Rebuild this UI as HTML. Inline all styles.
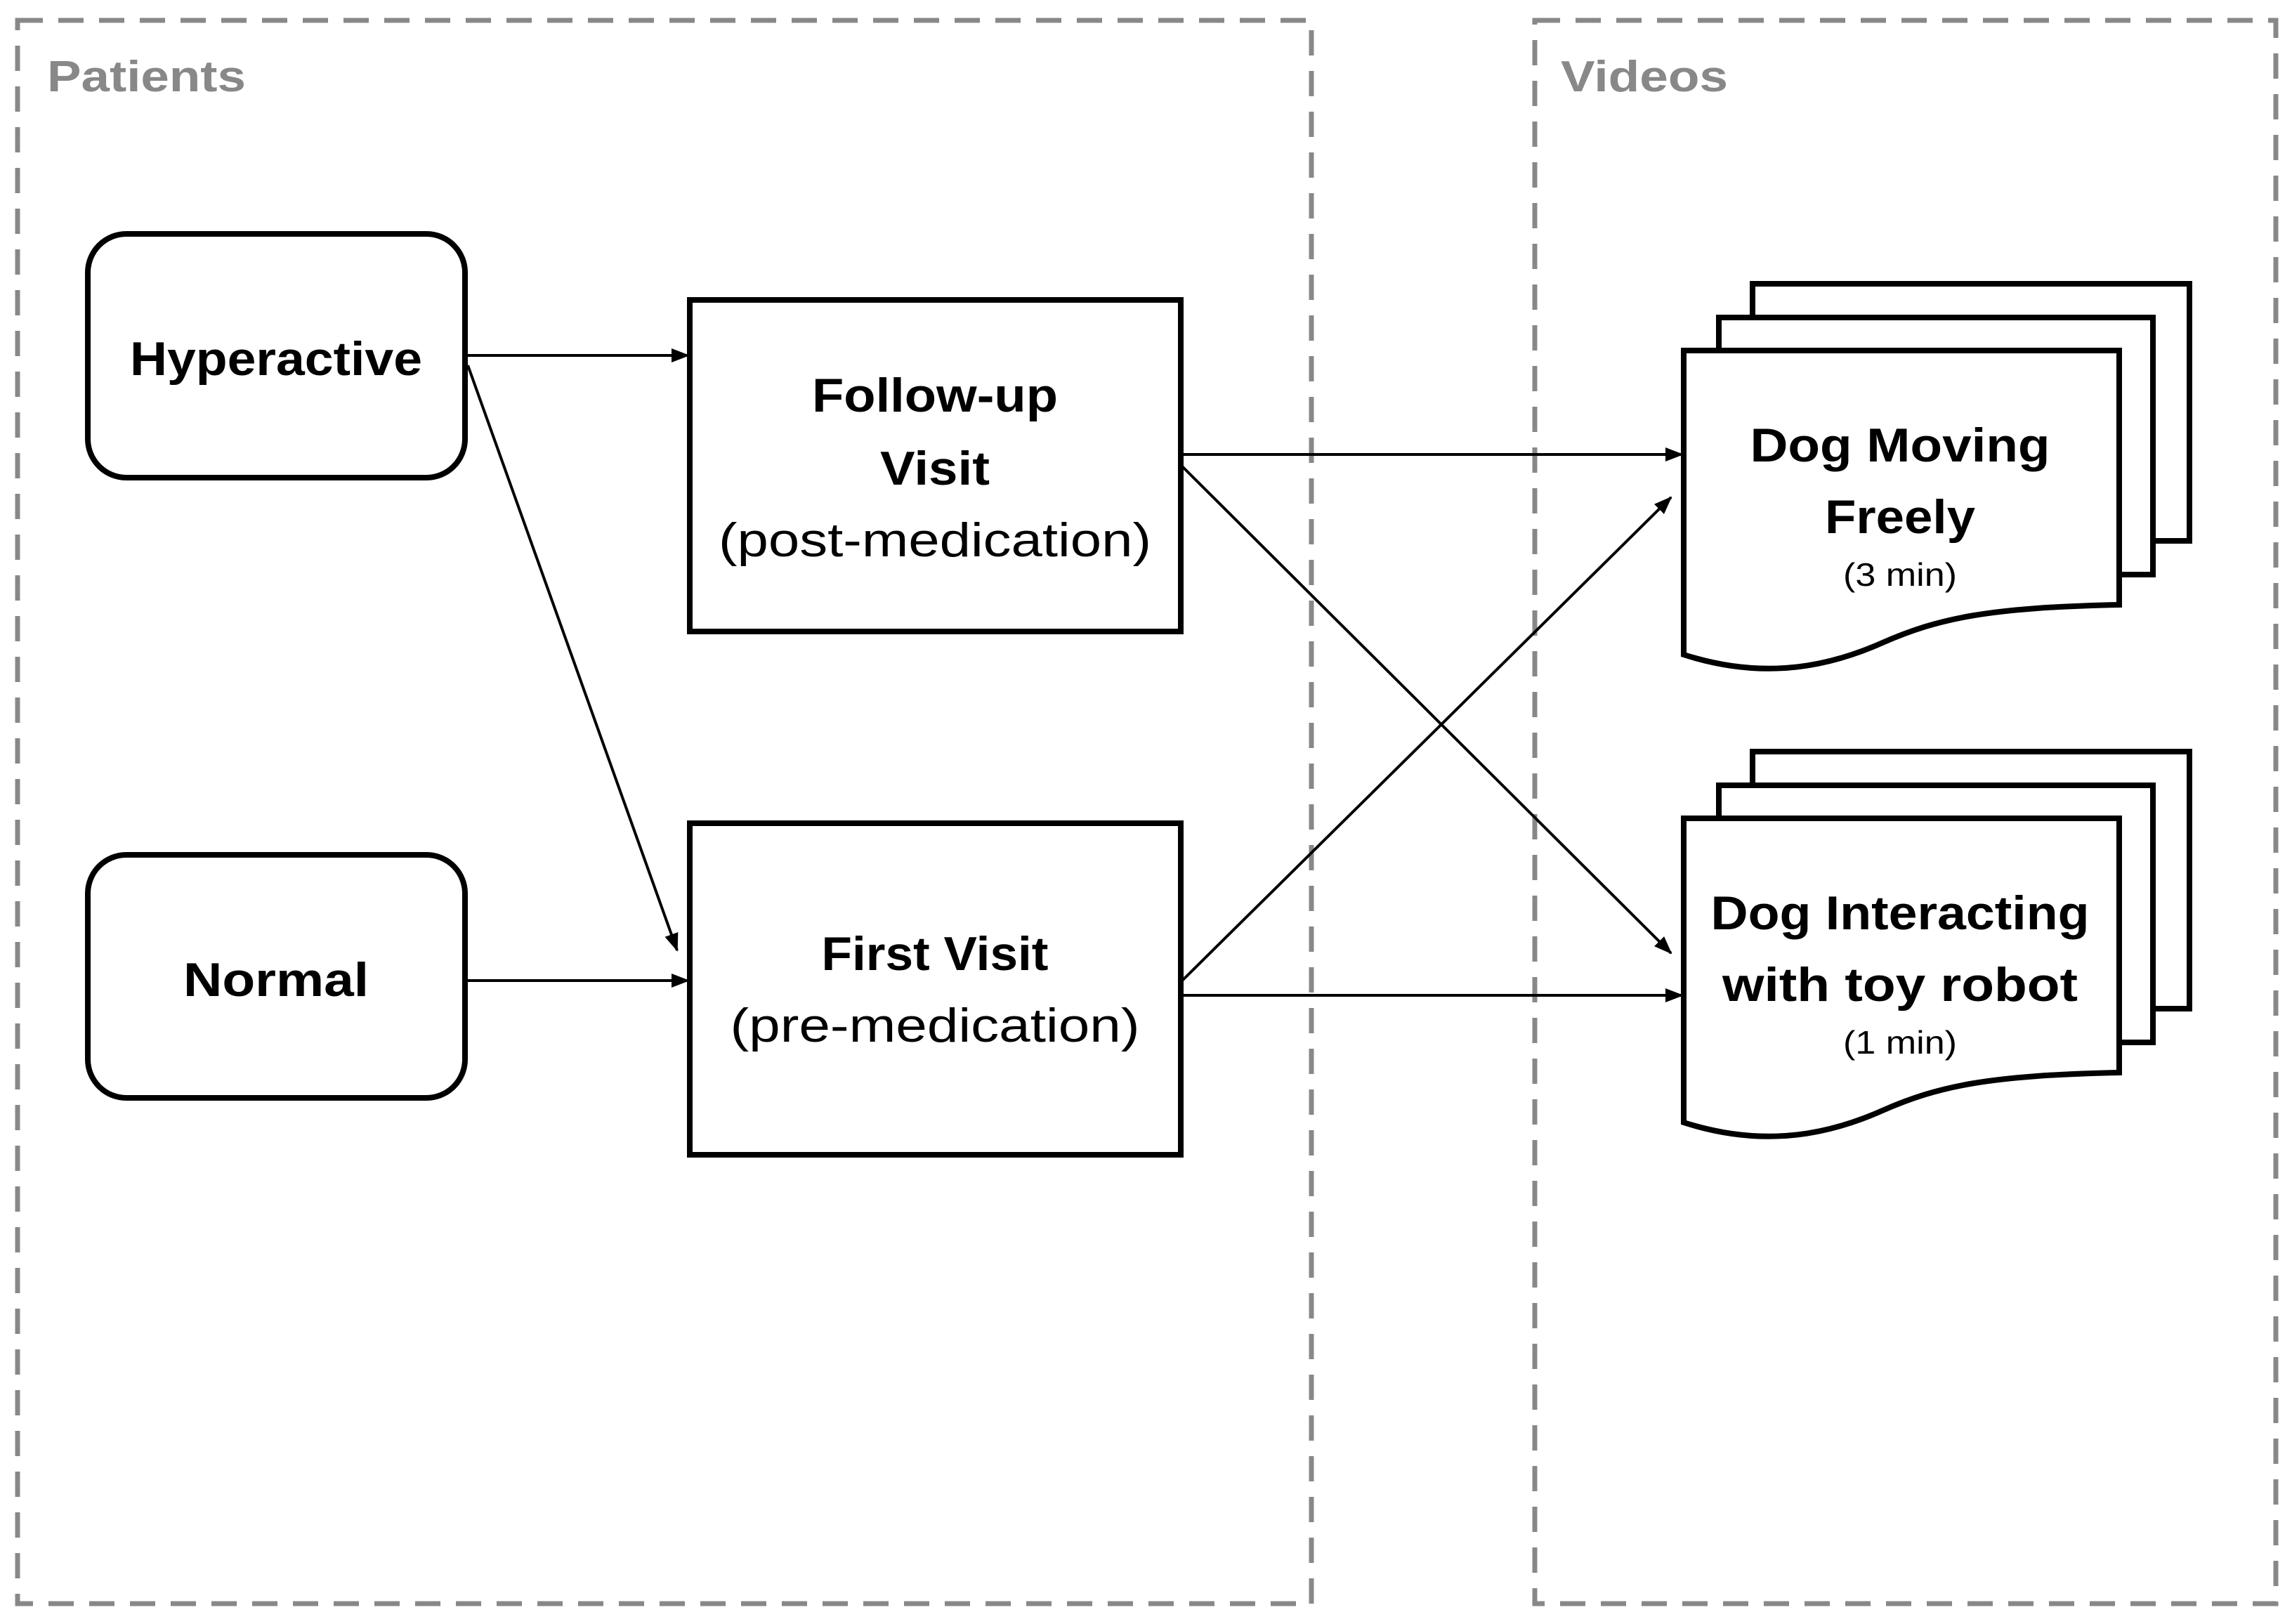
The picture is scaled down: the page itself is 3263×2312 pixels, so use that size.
<!DOCTYPE html>
<html><head><meta charset="utf-8"><style>html,body{margin:0;padding:0;background:#fff}svg{display:block}</style></head>
<body>
<svg width="3263" height="2312" viewBox="0 0 3263 2312" xmlns="http://www.w3.org/2000/svg" font-family="'Liberation Sans', sans-serif">
<defs>
<marker id="a" markerWidth="26" markerHeight="20" refX="24" refY="10" orient="auto" markerUnits="userSpaceOnUse">
<path d="M0,0 L26,10 L0,20 z" fill="#000"/>
</marker>
</defs>
<g fill="none" stroke="#888" stroke-width="7" stroke-dasharray="36,22">
<rect x="25" y="29" width="1842" height="2254"/>
<rect x="2185" y="29" width="1055" height="2254"/>
</g>
<text x="67" y="130" font-size="62" font-weight="bold" fill="#888" textLength="283" lengthAdjust="spacingAndGlyphs">Patients</text>
<text x="2222" y="130" font-size="62" font-weight="bold" fill="#888" textLength="238" lengthAdjust="spacingAndGlyphs">Videos</text>

<g fill="#fff" stroke="#000" stroke-width="8">
<rect x="125" y="333" width="537" height="347" rx="55"/>
<rect x="125" y="1217" width="537" height="346" rx="55"/>
<rect x="982" y="427" width="699" height="472"/>
<rect x="982" y="1172" width="699" height="472"/>
</g>

<g stroke="#000" stroke-width="4" fill="none" marker-end="url(#a)">
<line x1="662" y1="506" x2="980" y2="506"/>
<line x1="666" y1="520" x2="964" y2="1353"/>
<line x1="662" y1="1396" x2="980" y2="1396"/>
<line x1="1681" y1="647" x2="2395" y2="647"/>
<line x1="1681" y1="662" x2="2379" y2="1357"/>
<line x1="1681" y1="1398" x2="2379" y2="708"/>
<line x1="1681" y1="1417" x2="2395" y2="1417"/>
</g>

<g fill="#fff" stroke="#000" stroke-width="8">
<path d="M2495,404 H3117 V770 H2495 Z"/>
<path d="M2447,452 H3065 V818 H2447 Z"/>
<path d="M2397,499 H3017 V861 C2830,865 2760,880 2680,915 C2590,955 2500,965 2397,932 Z"/>
</g>
<g fill="#fff" stroke="#000" stroke-width="8" transform="translate(0,666)">
<path d="M2495,404 H3117 V770 H2495 Z"/>
<path d="M2447,452 H3065 V818 H2447 Z"/>
<path d="M2397,499 H3017 V861 C2830,865 2760,880 2680,915 C2590,955 2500,965 2397,932 Z"/>
</g>

<g text-anchor="middle" fill="#000" font-weight="bold" font-size="68">
<text x="393" y="534" textLength="416" lengthAdjust="spacingAndGlyphs">Hyperactive</text>
<text x="393" y="1418" textLength="264" lengthAdjust="spacingAndGlyphs">Normal</text>
<text x="1331" y="586" textLength="350" lengthAdjust="spacingAndGlyphs">Follow-up</text>
<text x="1331" y="690" textLength="156" lengthAdjust="spacingAndGlyphs">Visit</text>
<text x="1331" y="1381" textLength="323" lengthAdjust="spacingAndGlyphs">First Visit</text>
<text x="2705" y="657" textLength="427" lengthAdjust="spacingAndGlyphs">Dog Moving</text>
<text x="2705" y="759" textLength="214" lengthAdjust="spacingAndGlyphs">Freely</text>
<text x="2705" y="1323" textLength="539" lengthAdjust="spacingAndGlyphs">Dog Interacting</text>
<text x="2705" y="1425" textLength="506" lengthAdjust="spacingAndGlyphs">with toy robot</text>
</g>
<g text-anchor="middle" fill="#000" font-size="68">
<text x="1331" y="792" textLength="616" lengthAdjust="spacingAndGlyphs">(post-medication)</text>
<text x="1331" y="1483" textLength="583" lengthAdjust="spacingAndGlyphs">(pre-medication)</text>
</g>
<g text-anchor="middle" fill="#000" font-size="46">
<text x="2705" y="834" textLength="162" lengthAdjust="spacingAndGlyphs">(3 min)</text>
<text x="2705" y="1500" textLength="162" lengthAdjust="spacingAndGlyphs">(1 min)</text>
</g>
</svg>
</body></html>
